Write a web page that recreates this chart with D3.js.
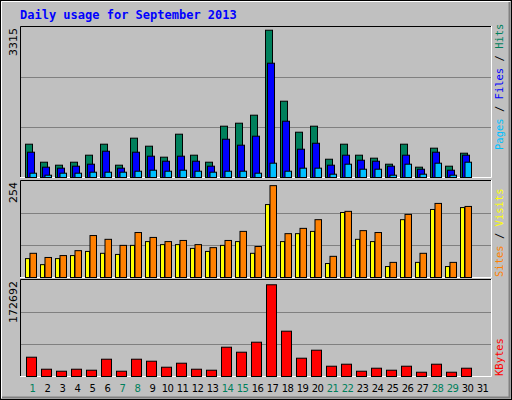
<!DOCTYPE html>
<html><head><meta charset="utf-8">
<script src="https://cdn.jsdelivr.net/npm/d3@7"></script>
<style>body{margin:0;background:#fff}svg{display:block}</style>
</head><body>
<div id="chart"></div>
<script>
// data
const days = d3.range(1, 32)
const weekend = [1, 7, 8, 14, 15, 21, 22, 28, 29]
const hits = [736,338,272,338,493,736,272,869,692,449,957,493,338,1134,1200,1377,3255,1686,1001,1134,404,736,493,427,294,736,228,648,250,537]
const files = [559,228,206,250,294,581,206,559,471,360,471,360,250,846,714,913,2526,1244,625,757,272,493,382,360,250,493,183,559,161,493]
const pages = [95,51,95,95,117,117,117,139,161,139,161,139,117,139,139,95,316,139,206,206,73,294,183,183,51,294,73,316,51,338]
const sites = [50,34,50,58,69,64,61,85,95,87,87,77,69,85,95,64,193,95,116,122,37,172,101,95,29,153,40,180,29,185]
const visits = [64,53,58,71,111,101,85,119,106,95,98,87,79,98,122,82,243,116,130,153,56,175,124,119,40,167,64,196,40,188]
const kbytes = [34700,13100,9500,13100,11300,31100,9500,31100,27500,16700,23900,13100,11300,52700,43700,61700,165000,81500,32900,47300,18500,22100,9500,14900,11300,18500,7700,22100,7700,14900]
const maxHits = 3315, maxVisits = 254, maxKB = 172692

const W = 512, H = 400
const svg = d3.select('#chart').append('svg').attr('width', W).attr('height', H)
  .style('font-family', 'DejaVu Sans Mono, monospace')

// frame
svg.append('rect').attr('x', 0.5).attr('y', 0.5).attr('width', W - 1).attr('height', H - 1)
  .attr('fill', '#c0c0c0').attr('stroke', '#000')
svg.append('path').attr('d', `M1.5,${H - 2}V1.5H${W - 2}`).attr('stroke', '#fff').attr('fill', 'none')
svg.append('path').attr('d', `M2,${H - 2.5}H${W - 2.5}V2`).attr('stroke', '#808080').attr('fill', 'none').attr('stroke-width', 2)

svg.append('text').attr('x', 20).attr('y', 19).text('Daily usage for September 2013')
  .attr('fill', '#0000ff').attr('font-weight', 'bold').attr('font-size', 12)

const x = d3.scaleBand().domain(days).range([22, 22 + 15 * 31])
const L = 20, R = 491

const panels = [
  { top: 26, bot: 177, max: maxHits, label: '3315' },
  { top: 180, bot: 277, max: maxVisits, label: '254' },
  { top: 279, bot: 376, max: maxKB, label: '172692' }
]
panels.forEach(p => {
  p.y = d3.scaleLinear().domain([0, p.max]).range([p.bot, p.top + 1])
  svg.append('rect').attr('x', L).attr('y', p.top).attr('width', R - L).attr('height', p.bot - p.top)
    .attr('fill', '#c0c0c0')
  ;[1 / 3, 2 / 3].forEach(f => {
    const gy = Math.round(p.y(p.max * f)) + 0.5
    svg.append('line').attr('x1', L).attr('x2', R).attr('y1', gy).attr('y2', gy)
      .attr('stroke', '#808080')
  })
  svg.append('path').attr('d', `M${L + 0.5},${p.bot}V${p.top + 0.5}H${R}`).attr('stroke', '#000').attr('fill', 'none')
  svg.append('path').attr('d', `M${L},${p.bot + 0.5}H${R + 0.5}V${p.top}`).attr('stroke', '#fff').attr('fill', 'none')
  svg.append('text').attr('transform', `translate(17,${p.top + 2}) rotate(-90)`)
    .attr('text-anchor', 'end').attr('font-size', 11).attr('font-family', 'DejaVu Sans, sans-serif')
    .text(p.label)
})

function bars(series, panel, dx, w, color) {
  svg.append('g').selectAll('rect').data(series).join('rect')
    .attr('x', (d, i) => x(days[i]) + dx + 0.5)
    .attr('y', d => panel.y(d) + 0.5)
    .attr('width', w)
    .attr('height', d => panel.bot - panel.y(d))
    .attr('fill', color).attr('stroke', '#000')
}
bars(hits, panels[0], 3, 7, '#00805c')
bars(files, panels[0], 5, 7, '#0000ff')
bars(pages, panels[0], 7.5, 6.5, '#00c0ff')
bars(sites, panels[1], 3, 4, '#ffff00')
bars(visits, panels[1], 7.5, 6.5, '#ff8000')
bars(kbytes, panels[2], 4, 10, '#ff0000')

// day labels
svg.append('g').selectAll('text').data(days).join('text')
  .attr('x', d => x(d) + 10.5).attr('y', 392).attr('text-anchor', 'middle')
  .attr('font-size', 10).attr('letter-spacing', -0.6).attr('font-family', 'DejaVu Sans, sans-serif')
  .attr('fill', d => weekend.includes(d) ? '#00805c' : '#000')
  .text(d => d)

// right legends
function legend(y, parts) {
  const t = svg.append('text').attr('transform', `translate(503,${y}) rotate(-90)`)
    .attr('font-size', 10.5)
  parts.forEach(([s, c]) => t.append('tspan').attr('fill', c).text(s))
}
legend(150, [['Pages', '#00c0ff'], [' / ', '#000'], ['Files', '#0000ff'], [' / ', '#000'], ['Hits', '#00805c']])
legend(277, [['Sites', '#ff8000'], [' / ', '#000'], ['Visits', '#ffff00']])
legend(376, [['KBytes', '#ff0000']])
</script>
</body></html>
